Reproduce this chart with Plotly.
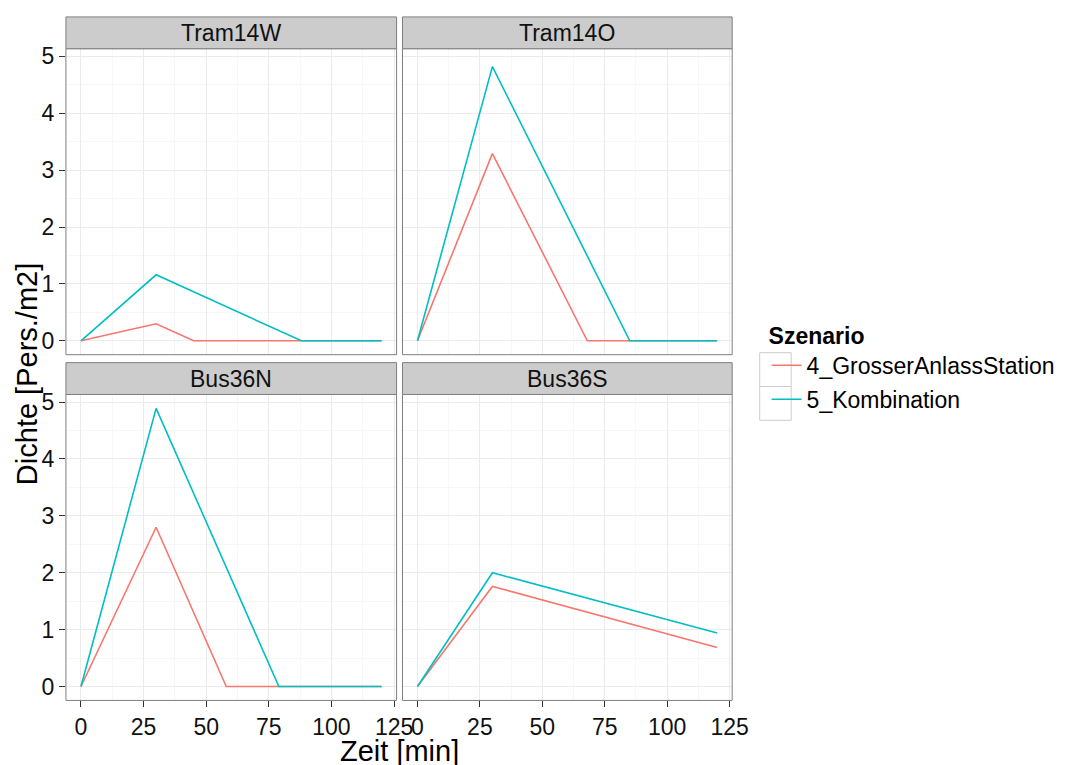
import plotly.graph_objects as go

# ---------------- data ----------------
panels = ["Tram14W", "Tram14O", "Bus36N", "Bus36S"]
scenarios = ["4_GrosserAnlassStation", "5_Kombination"]
colors = ["#F8766D", "#00BFC4"]

tram14w_time_s4 = [0, 30, 45, 88, 120]
tram14w_dens_s4 = [0, 0.30, 0, 0, 0]
tram14w_time_s5 = [0, 30, 88, 120]
tram14w_dens_s5 = [0, 1.16, 0, 0]

tram14o_time_s4 = [0, 30, 68, 120]
tram14o_dens_s4 = [0, 3.29, 0, 0]
tram14o_time_s5 = [0, 30, 85, 120]
tram14o_dens_s5 = [0, 4.82, 0, 0]

bus36n_time_s4 = [0, 30, 58, 120]
bus36n_dens_s4 = [0, 2.80, 0, 0]
bus36n_time_s5 = [0, 30, 79, 120]
bus36n_dens_s5 = [0, 4.89, 0, 0]

bus36s_time_s4 = [0, 30, 120]
bus36s_dens_s4 = [0, 1.76, 0.685]
bus36s_time_s5 = [0, 30, 120]
bus36s_dens_s5 = [0, 2.00, 0.94]

x_ticks = [0, 25, 50, 75, 100, 125]
y_ticks = [0, 1, 2, 3, 4, 5]

series = {
    "Tram14W": [(tram14w_time_s4, tram14w_dens_s4), (tram14w_time_s5, tram14w_dens_s5)],
    "Tram14O": [(tram14o_time_s4, tram14o_dens_s4), (tram14o_time_s5, tram14o_dens_s5)],
    "Bus36N": [(bus36n_time_s4, bus36n_dens_s4), (bus36n_time_s5, bus36n_dens_s5)],
    "Bus36S": [(bus36s_time_s4, bus36s_dens_s4), (bus36s_time_s5, bus36s_dens_s5)],
}

# ---------------- layout geometry ----------------
W, H = 1068, 765
FONT = "Liberation Sans, Arial, sans-serif"
px_x = lambda p: p / W
px_y = lambda p: 1 - p / H

col_x = [(67, 403), (409, 744)]
row_y = [(44, 352), (392, 700)]   # panel top/bottom in pixels
strip_h = 32

all_t = [t for s in series.values() for (t, _) in s for t in t]
all_v = [v for s in series.values() for (_, d) in s for v in d]
tmin, tmax = min(all_t), max(all_t)
vmin, vmax = min(all_v), max(all_v)
xpad = 0.05 * (tmax - tmin)
ypad = 0.05 * (vmax - vmin)
xrange = [tmin - xpad, tmax + xpad]
yrange = [vmin - ypad, vmax + ypad]

fig = go.Figure()
shapes = []
annotations = []

for i, name in enumerate(panels):
    r, c = divmod(i, 2)
    ax = "" if i == 0 else str(i + 1)
    for k, (t, d) in enumerate(series[name]):
        fig.add_trace(go.Scatter(
            x=t, y=d, mode="lines", name=scenarios[k],
            line=dict(color=colors[k], width=1.6),
            legendgroup=scenarios[k], showlegend=(i == 0),
            xaxis="x" + ax, yaxis="y" + ax,
        ))
    x0, x1 = col_x[c]
    top, bot = row_y[r]
    show_x = (r == 1)
    show_y = (c == 0)
    common = dict(
        showgrid=True, gridcolor="#EBEBEB", gridwidth=1,
        zeroline=False, showline=False,
        tickfont=dict(family=FONT, size=23, color="#111111"),
        ticklen=6, tickcolor="#333333", tickwidth=1,
    )
    fig.update_layout(**{
        "xaxis" + ax: dict(
            domain=[px_x(x0), px_x(x1)], range=xrange, anchor="y" + ax,
            tickvals=x_ticks, ticktext=[str(v) for v in x_ticks],
            ticks="outside" if show_x else "", showticklabels=show_x,
            minor=dict(showgrid=True, gridcolor="#F7F7F7", tickvals=[12.5, 37.5, 62.5, 87.5, 112.5]),
            **common),
        "yaxis" + ax: dict(
            domain=[px_y(bot), px_y(top)], range=yrange, anchor="x" + ax,
            tickvals=y_ticks, ticktext=[str(v) for v in y_ticks],
            ticks="outside" if show_y else "", showticklabels=show_y,
            minor=dict(showgrid=True, gridcolor="#F7F7F7", tickvals=[0.5, 1.5, 2.5, 3.5, 4.5]),
            **common),
    })
    # panel border
    shapes.append(dict(type="rect", xref="paper", yref="paper",
                       x0=px_x(x0), x1=px_x(x1), y0=px_y(bot), y1=px_y(top),
                       line=dict(color="#7F7F7F", width=1), fillcolor="rgba(0,0,0,0)", layer="above"))
    # strip
    shapes.append(dict(type="rect", xref="paper", yref="paper",
                       x0=px_x(x0), x1=px_x(x1), y0=px_y(top), y1=px_y(top - strip_h),
                       line=dict(color="#7F7F7F", width=1), fillcolor="#CCCCCC", layer="above"))
    annotations.append(dict(text=name, xref="paper", yref="paper",
                            x=px_x((x0 + x1) / 2), y=px_y(top - strip_h / 2),
                            xanchor="center", yanchor="middle", showarrow=False,
                            font=dict(family=FONT, size=23, color="#111111")))

# axis titles
annotations.append(dict(text="Zeit [min]", xref="paper", yref="paper",
                        x=px_x((67 + 744) / 2), y=px_y(751), xanchor="center", yanchor="middle",
                        showarrow=False, font=dict(family=FONT, size=29, color="#000000")))
annotations.append(dict(text="Dichte [Pers./m2]", xref="paper", yref="paper",
                        x=px_x(27), y=px_y(372), xanchor="center", yanchor="middle", textangle=-90,
                        showarrow=False, font=dict(family=FONT, size=29, color="#000000")))

# legend key boxes
for k in range(2):
    shapes.append(dict(type="rect", xref="paper", yref="paper",
                       x0=px_x(772), x1=px_x(804), y0=px_y(350 + 34 * k), y1=px_y(384 + 34 * k),
                       line=dict(color="#CCCCCC", width=1), fillcolor="rgba(0,0,0,0)", layer="above"))

fig.update_layout(
    width=W, height=H,
    margin=dict(l=0, r=0, t=0, b=0),
    paper_bgcolor="white", plot_bgcolor="white",
    shapes=shapes, annotations=annotations,
    showlegend=True,
    legend=dict(
        x=px_x(779), y=px_y(311), xanchor="left", yanchor="top",
        title=dict(text="<b>Szenario</b>", font=dict(family=FONT, size=23, color="#000000")),
        font=dict(family=FONT, size=23, color="#000000"),
        tracegroupgap=1, bgcolor="rgba(0,0,0,0)", itemwidth=30,
    ),
)

fig.write_html("out.html")
